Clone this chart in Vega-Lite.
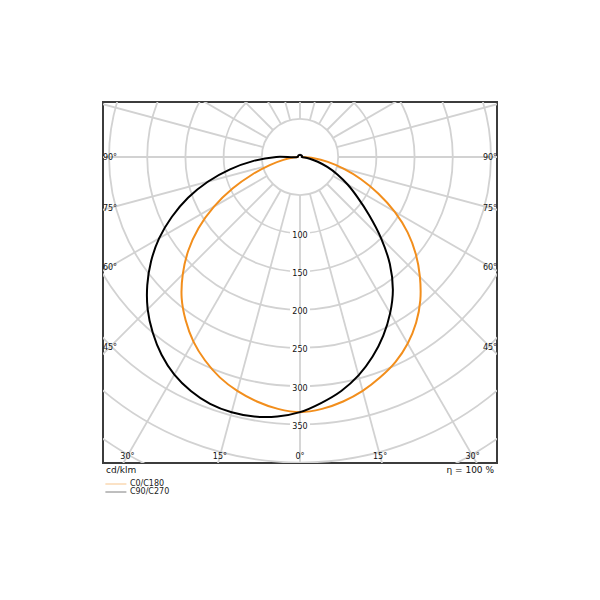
{
  "$schema": "https://vega.github.io/schema/vega-lite/v6.json",
  "width": 394,
  "height": 361,
  "autosize": "none",
  "padding": {"left": 103, "top": 102, "right": 103, "bottom": 137},
  "config": {
    "view": {"stroke": "#3c3c3c", "strokeWidth": 2},
    "font": "DejaVu Sans",
    "text": {"font": "DejaVu Sans"}
  },
  "datasets": {
    "rings": [{"r": 50}, {"r": 100}, {"r": 150}, {"r": 200}, {"r": 250}, {"r": 300}, {"r": 350}, {"r": 400}, {"r": 450}, {"r": 500}],
    "spokes": [{"a": 0}, {"a": 15}, {"a": 30}, {"a": 45}, {"a": 60}, {"a": 75}, {"a": 90}, {"a": 105}, {"a": 120}, {"a": 135}, {"a": 150}, {"a": 165}, {"a": 180}, {"a": 195}, {"a": 210}, {"a": 225}, {"a": 240}, {"a": 255}, {"a": 270}, {"a": 285}, {"a": 300}, {"a": 315}, {"a": 330}, {"a": 345}],
    "ringLabels": [{"v": 100}, {"v": 150}, {"v": 200}, {"v": 250}, {"v": 300}, {"v": 350}],
    "angleLabels": [
      {"label": "90°", "kind": "side", "s": -1, "a": 90},
      {"label": "75°", "kind": "side", "s": -1, "a": 75},
      {"label": "60°", "kind": "side", "s": -1, "a": 60},
      {"label": "45°", "kind": "side", "s": -1, "a": 45},
      {"label": "90°", "kind": "side", "s": 1, "a": 90},
      {"label": "75°", "kind": "side", "s": 1, "a": 75},
      {"label": "60°", "kind": "side", "s": 1, "a": 60},
      {"label": "45°", "kind": "side", "s": 1, "a": 45},
      {"label": "30°", "kind": "bottom", "s": 1, "a": -30},
      {"label": "15°", "kind": "bottom", "s": 1, "a": -15},
      {"label": "0°", "kind": "bottom", "s": 1, "a": 0},
      {"label": "15°", "kind": "bottom", "s": 1, "a": 15},
      {"label": "30°", "kind": "bottom", "s": 1, "a": 30}
    ],
    "curves": [
      {"series": "C0/C180", "angle": -90, "value": 2},
      {"series": "C0/C180", "angle": -85, "value": 9},
      {"series": "C0/C180", "angle": -80, "value": 22},
      {"series": "C0/C180", "angle": -75, "value": 41},
      {"series": "C0/C180", "angle": -70, "value": 66},
      {"series": "C0/C180", "angle": -65, "value": 97},
      {"series": "C0/C180", "angle": -60, "value": 130},
      {"series": "C0/C180", "angle": -55, "value": 162},
      {"series": "C0/C180", "angle": -50, "value": 191},
      {"series": "C0/C180", "angle": -45, "value": 217},
      {"series": "C0/C180", "angle": -40, "value": 241},
      {"series": "C0/C180", "angle": -35, "value": 261},
      {"series": "C0/C180", "angle": -30, "value": 279},
      {"series": "C0/C180", "angle": -25, "value": 294},
      {"series": "C0/C180", "angle": -20, "value": 307},
      {"series": "C0/C180", "angle": -15, "value": 317},
      {"series": "C0/C180", "angle": -10, "value": 325},
      {"series": "C0/C180", "angle": -5, "value": 331},
      {"series": "C0/C180", "angle": 0, "value": 334},
      {"series": "C0/C180", "angle": 5, "value": 331},
      {"series": "C0/C180", "angle": 10, "value": 325},
      {"series": "C0/C180", "angle": 15, "value": 317},
      {"series": "C0/C180", "angle": 20, "value": 307},
      {"series": "C0/C180", "angle": 25, "value": 296},
      {"series": "C0/C180", "angle": 30, "value": 282},
      {"series": "C0/C180", "angle": 35, "value": 265},
      {"series": "C0/C180", "angle": 40, "value": 245},
      {"series": "C0/C180", "angle": 45, "value": 222},
      {"series": "C0/C180", "angle": 50, "value": 198},
      {"series": "C0/C180", "angle": 55, "value": 172},
      {"series": "C0/C180", "angle": 60, "value": 143},
      {"series": "C0/C180", "angle": 65, "value": 113},
      {"series": "C0/C180", "angle": 70, "value": 85},
      {"series": "C0/C180", "angle": 75, "value": 59},
      {"series": "C0/C180", "angle": 80, "value": 37},
      {"series": "C0/C180", "angle": 85, "value": 18},
      {"series": "C0/C180", "angle": 90, "value": 2},
      {"series": "C90/C270", "angle": -180, "value": 3},
      {"series": "C90/C270", "angle": -135, "value": 3},
      {"series": "C90/C270", "angle": -95, "value": 3},
      {"series": "C90/C270", "angle": -90, "value": 31},
      {"series": "C90/C270", "angle": -85, "value": 62},
      {"series": "C90/C270", "angle": -80, "value": 93},
      {"series": "C90/C270", "angle": -75, "value": 125},
      {"series": "C90/C270", "angle": -70, "value": 156},
      {"series": "C90/C270", "angle": -65, "value": 185},
      {"series": "C90/C270", "angle": -60, "value": 213},
      {"series": "C90/C270", "angle": -55, "value": 238},
      {"series": "C90/C270", "angle": -50, "value": 261},
      {"series": "C90/C270", "angle": -45, "value": 282},
      {"series": "C90/C270", "angle": -40, "value": 300},
      {"series": "C90/C270", "angle": -35, "value": 316},
      {"series": "C90/C270", "angle": -30, "value": 329},
      {"series": "C90/C270", "angle": -25, "value": 338},
      {"series": "C90/C270", "angle": -20, "value": 344},
      {"series": "C90/C270", "angle": -15, "value": 346},
      {"series": "C90/C270", "angle": -10, "value": 345},
      {"series": "C90/C270", "angle": -5, "value": 341},
      {"series": "C90/C270", "angle": 0, "value": 334},
      {"series": "C90/C270", "angle": 5, "value": 323},
      {"series": "C90/C270", "angle": 10, "value": 311},
      {"series": "C90/C270", "angle": 15, "value": 296},
      {"series": "C90/C270", "angle": 20, "value": 278},
      {"series": "C90/C270", "angle": 25, "value": 258},
      {"series": "C90/C270", "angle": 30, "value": 236},
      {"series": "C90/C270", "angle": 35, "value": 212},
      {"series": "C90/C270", "angle": 40, "value": 183},
      {"series": "C90/C270", "angle": 45, "value": 150},
      {"series": "C90/C270", "angle": 50, "value": 118},
      {"series": "C90/C270", "angle": 55, "value": 92},
      {"series": "C90/C270", "angle": 60, "value": 72},
      {"series": "C90/C270", "angle": 65, "value": 54},
      {"series": "C90/C270", "angle": 70, "value": 38},
      {"series": "C90/C270", "angle": 75, "value": 24},
      {"series": "C90/C270", "angle": 80, "value": 13},
      {"series": "C90/C270", "angle": 85, "value": 6},
      {"series": "C90/C270", "angle": 90, "value": 2},
      {"series": "C90/C270", "angle": 95, "value": 3},
      {"series": "C90/C270", "angle": 135, "value": 3},
      {"series": "C90/C270", "angle": 180, "value": 3}
    ]
  },
  "layer": [
    {
      "data": {"name": "rings"},
      "mark": {"type": "point", "shape": "circle", "filled": false, "stroke": "#d2d2d2", "strokeWidth": 1.8, "opacity": 1, "clip": true},
      "encoding": {
        "x": {"datum": 0, "type": "quantitative", "scale": {"domain": [-257.9, 257.9], "nice": false, "zero": false}, "axis": null},
        "y": {"datum": 0, "type": "quantitative", "scale": {"domain": [-400.6, 72.0], "nice": false, "zero": false}, "axis": null},
        "size": {"field": "r", "type": "quantitative", "scale": {"type": "pow", "exponent": 2, "domain": [0, 500], "range": [0, 583540]}, "legend": null}
      }
    },
    {
      "data": {"name": "spokes"},
      "transform": [
        {"calculate": "50*sin(datum.a*PI/180)", "as": "x1"},
        {"calculate": "-50*cos(datum.a*PI/180)", "as": "y1"},
        {"calculate": "800*sin(datum.a*PI/180)", "as": "x2"},
        {"calculate": "-800*cos(datum.a*PI/180)", "as": "y2"}
      ],
      "mark": {"type": "rule", "stroke": "#d2d2d2", "strokeWidth": 1.8, "clip": true},
      "encoding": {
        "x": {"field": "x1", "type": "quantitative", "scale": {"domain": [-257.9, 257.9], "nice": false, "zero": false}, "axis": null},
        "y": {"field": "y1", "type": "quantitative", "scale": {"domain": [-400.6, 72.0], "nice": false, "zero": false}, "axis": null},
        "x2": {"field": "x2"},
        "y2": {"field": "y2"}
      }
    },
    {
      "data": {"name": "ringLabels"},
      "transform": [{"calculate": "-datum.v", "as": "yy"}],
      "mark": {"type": "point", "shape": "M-1,-0.3H1V0.3H-1Z", "filled": true, "fill": "#ffffff", "strokeWidth": 0, "opacity": 1, "size": 400, "yOffset": 1},
      "encoding": {
        "x": {"datum": 0, "type": "quantitative", "scale": {"domain": [-257.9, 257.9], "nice": false, "zero": false}, "axis": null},
        "y": {"field": "yy", "type": "quantitative", "scale": {"domain": [-400.6, 72.0], "nice": false, "zero": false}, "axis": null}
      }
    },
    {
      "data": {"name": "ringLabels"},
      "transform": [{"calculate": "-datum.v", "as": "yy"}],
      "mark": {"type": "text", "fontSize": 8, "color": "#111111", "align": "center", "baseline": "middle", "dy": 2.5},
      "encoding": {
        "x": {"datum": 0, "type": "quantitative", "scale": {"domain": [-257.9, 257.9], "nice": false, "zero": false}, "axis": null},
        "y": {"field": "yy", "type": "quantitative", "scale": {"domain": [-400.6, 72.0], "nice": false, "zero": false}, "axis": null},
        "text": {"field": "v", "type": "quantitative"}
      }
    },
    {
      "data": {"name": "angleLabels"},
      "transform": [
        {"calculate": "datum.kind == 'side' ? datum.s*248.7 : 391.4*tan(datum.a*PI/180)", "as": "lx"},
        {"calculate": "datum.kind == 'side' ? -248.7/tan(datum.a*PI/180) : -391.4", "as": "ly"}
      ],
      "mark": {"type": "text", "fontSize": 8, "color": "#111111", "align": "center", "baseline": "middle", "dy": 1.5},
      "encoding": {
        "x": {"field": "lx", "type": "quantitative", "scale": {"domain": [-257.9, 257.9], "nice": false, "zero": false}, "axis": null},
        "y": {"field": "ly", "type": "quantitative", "scale": {"domain": [-400.6, 72.0], "nice": false, "zero": false}, "axis": null},
        "text": {"field": "label", "type": "nominal"}
      }
    },
    {
      "data": {"name": "curves"},
      "transform": [
        {"calculate": "datum.value*sin(datum.angle*PI/180)", "as": "cx"},
        {"calculate": "-datum.value*cos(datum.angle*PI/180)", "as": "cy"}
      ],
      "mark": {"type": "line", "strokeWidth": 2, "clip": true, "interpolate": "catmull-rom"},
      "encoding": {
        "x": {"field": "cx", "type": "quantitative", "scale": {"domain": [-257.9, 257.9], "nice": false, "zero": false}, "axis": null},
        "y": {"field": "cy", "type": "quantitative", "scale": {"domain": [-400.6, 72.0], "nice": false, "zero": false}, "axis": null},
        "order": {"field": "angle", "type": "quantitative"},
        "color": {
          "field": "series", "type": "nominal",
          "scale": {"domain": ["C0/C180", "C90/C270"], "range": ["#f28e1c", "#000000"]},
          "legend": {
            "orient": "none", "legendX": 3, "legendY": 378, "title": null,
            "symbolType": "M-5,0H5", "symbolSize": 17.64, "symbolStrokeWidth": 1, "symbolOpacity": 0.5,
            "symbolOffset": 5.9, "labelOffset": 10, "labelFontSize": 8, "labelFont": "DejaVu Sans", "labelColor": "#222222",
            "rowPadding": 0, "padding": 0
          }
        }
      }
    },
    {
      "data": {"values": [{"t": "cd/klm"}]},
      "mark": {"type": "text", "fontSize": 9, "color": "#111111", "align": "left", "baseline": "middle", "dx": 3, "dy": 1},
      "encoding": {
        "x": {"datum": -257.9, "type": "quantitative", "scale": {"domain": [-257.9, 257.9], "nice": false, "zero": false}, "axis": null},
        "y": {"datum": -408.4, "type": "quantitative", "scale": {"domain": [-400.6, 72.0], "nice": false, "zero": false}, "axis": null},
        "text": {"field": "t", "type": "nominal"}
      }
    },
    {
      "data": {"values": [{"t": "η = 100 %"}]},
      "mark": {"type": "text", "fontSize": 9, "color": "#111111", "align": "right", "baseline": "middle", "dx": -3, "dy": 1},
      "encoding": {
        "x": {"datum": 257.9, "type": "quantitative", "scale": {"domain": [-257.9, 257.9], "nice": false, "zero": false}, "axis": null},
        "y": {"datum": -408.4, "type": "quantitative", "scale": {"domain": [-400.6, 72.0], "nice": false, "zero": false}, "axis": null},
        "text": {"field": "t", "type": "nominal"}
      }
    }
  ]
}
